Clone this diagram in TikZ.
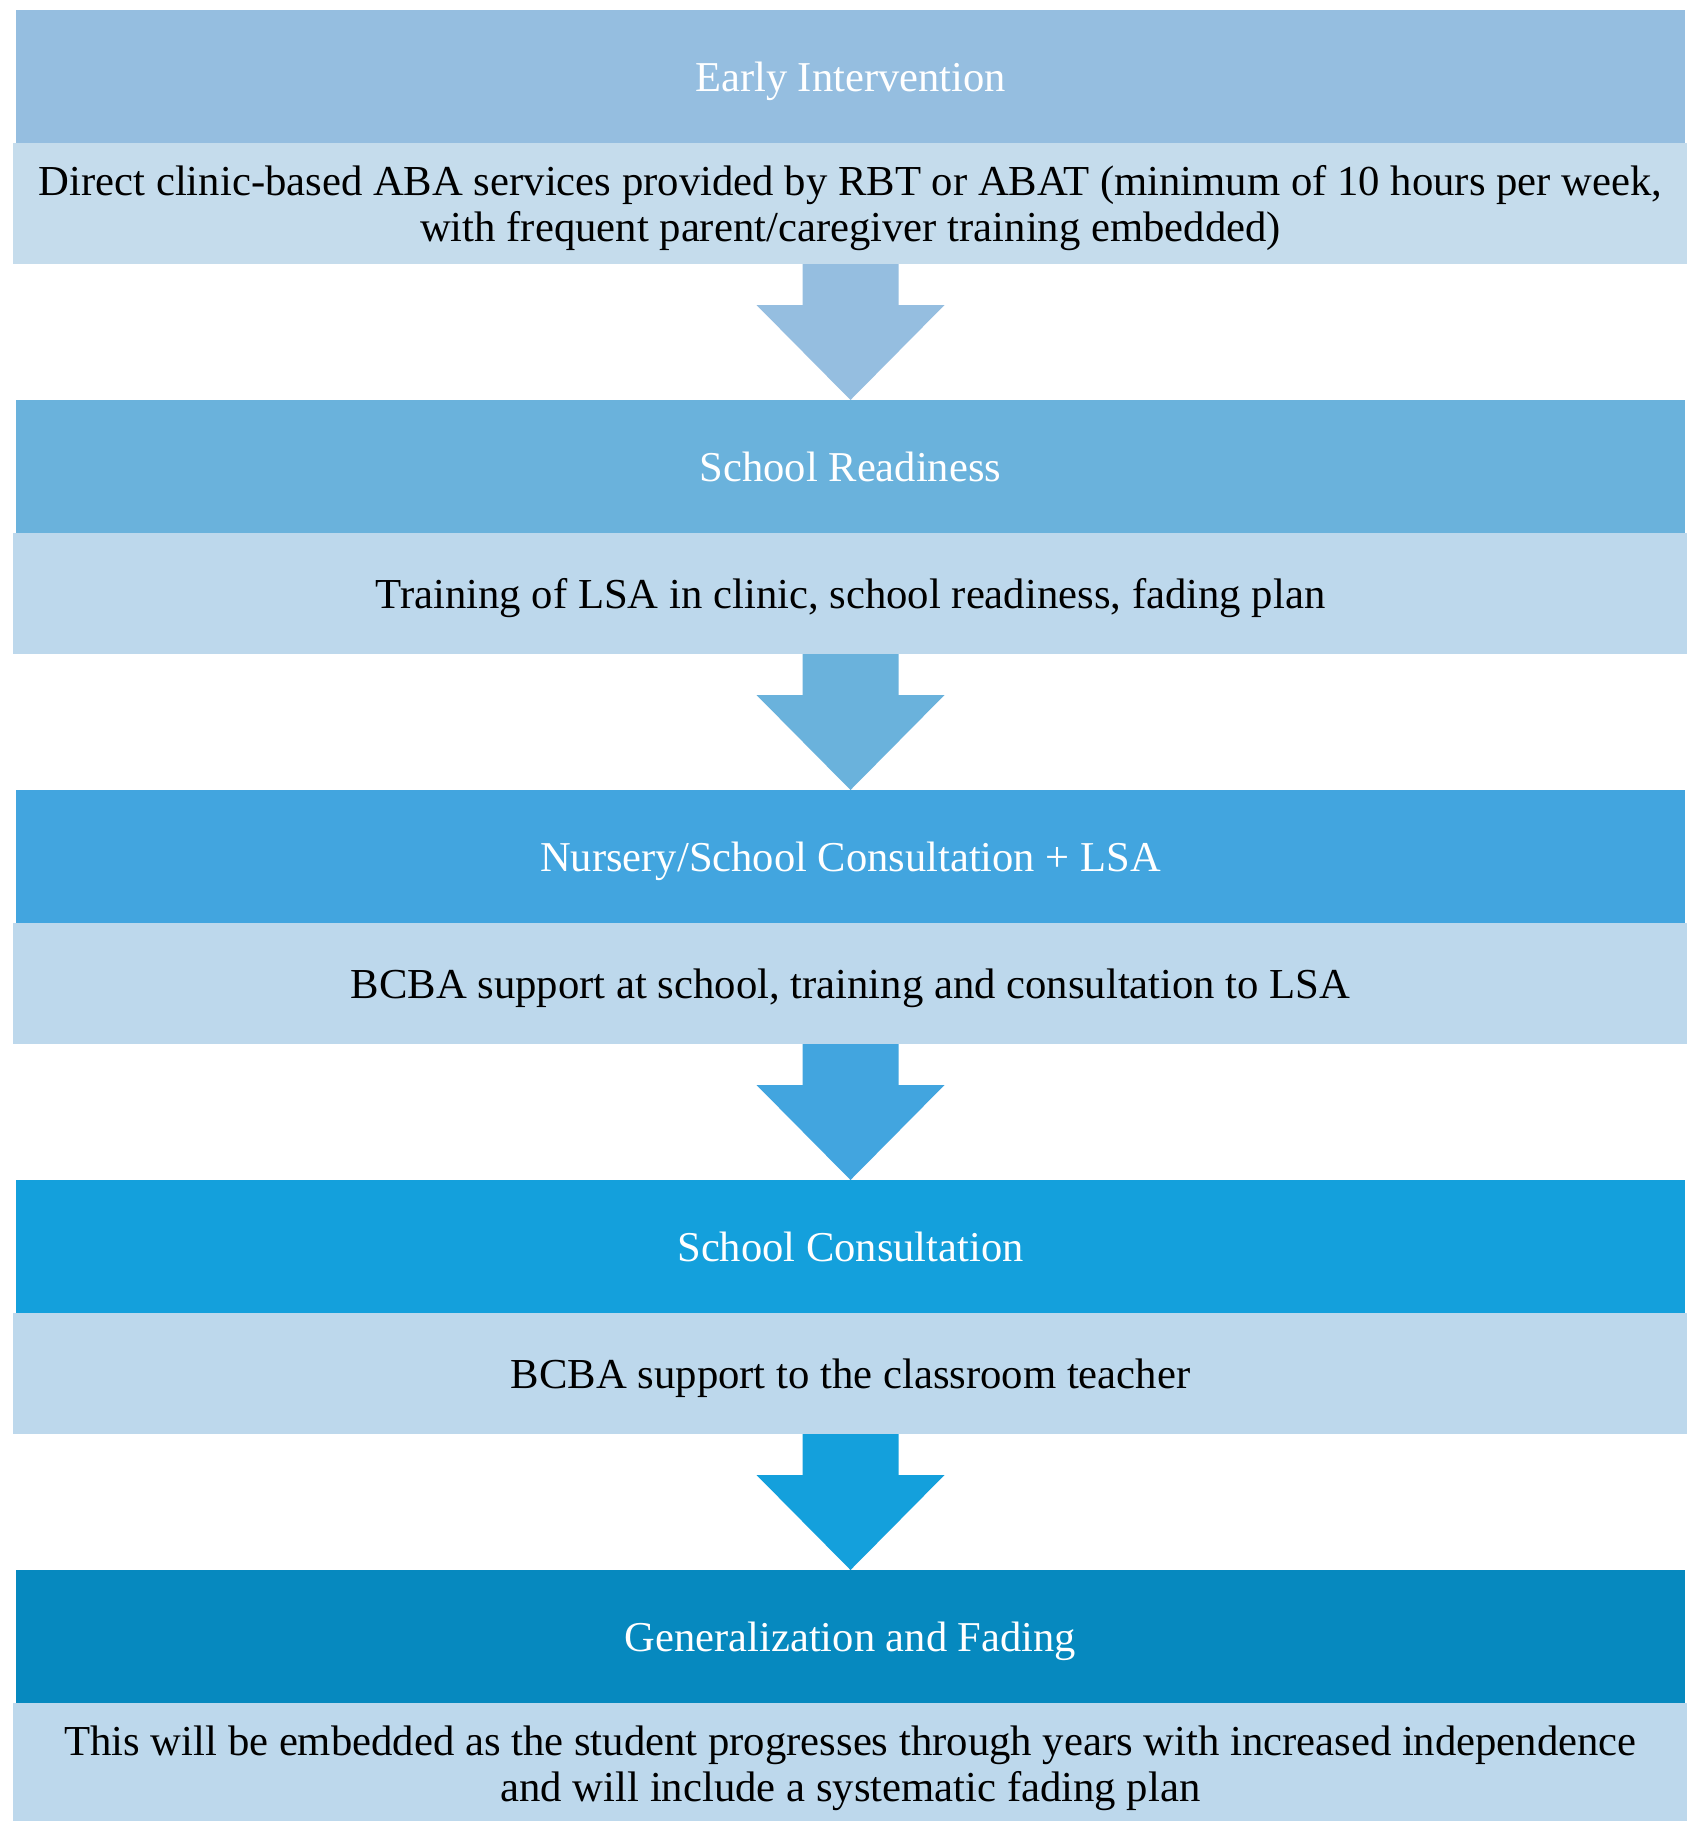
\documentclass[tikz,border=0pt]{standalone}
\usepackage{fontspec}
\setmainfont{Liberation Serif}
\usetikzlibrary{positioning,calc}

\definecolor{stageA}{HTML}{95BEE0}
\definecolor{stageB}{HTML}{6AB2DC}
\definecolor{stageC}{HTML}{42A5DF}
\definecolor{stageD}{HTML}{14A0DC}
\definecolor{stageE}{HTML}{0689BF}
\definecolor{bodyA}{HTML}{C5DCEC}
\definecolor{bodyB}{HTML}{BDD8EC}

\tikzset{
    header/.style={minimum width=16.69cm, minimum height=1.33cm, inner sep=0pt, outer sep=0pt,
        text depth=0pt, text=white, font=\fontsize{12.1}{14}\selectfont},
    detail/.style={minimum width=16.74cm, minimum height=1.21cm, inner sep=0pt, outer sep=0pt,
        text depth=0pt, align=center, font=\fontsize{12.15}{13.1}\selectfont},
}

\begin{document}
\begin{tikzpicture}
    \useasboundingbox[fill=white] (0,0) rectangle (16.87,-18.21);

    % Stage headers and their descriptions
    \node[header, fill=stageA, anchor=north] (hdrA) at (8.505,-0.10) {Early Intervention};
    \node[detail, fill=bodyA, below=0pt of hdrA] (detA)
        {Direct clinic-based ABA services provided by RBT or ABAT (minimum of 10 hours per week,\\
         with frequent parent/caregiver training embedded)};

    \node[header, fill=stageB, below=1.36cm of detA] (hdrB) {School Readiness};
    \node[detail, fill=bodyB, below=0pt of hdrB] (detB)
        {Training of LSA in clinic, school readiness, fading plan};

    \node[header, fill=stageC, below=1.36cm of detB] (hdrC) {Nursery/School Consultation + LSA};
    \node[detail, fill=bodyB, below=0pt of hdrC] (detC)
        {BCBA support at school, training and consultation to LSA};

    \node[header, fill=stageD, below=1.36cm of detC] (hdrD) {School Consultation};
    \node[detail, fill=bodyB, below=0pt of hdrD] (detD)
        {BCBA support to the classroom teacher};

    \node[header, fill=stageE, below=1.36cm of detD] (hdrE) {Generalization and Fading};
    \node[detail, fill=bodyB, below=0pt of hdrE] (detE)
        {This will be embedded as the student progresses through years with increased independence\\
         and will include a systematic fading plan};

    % Block arrows between the stages
    \foreach \a/\b/\c in {detA/hdrB/stageA, detB/hdrC/stageB, detC/hdrD/stageC, detD/hdrE/stageD} {
        \fill[\c] ($(\a.south)+(-0.48,0)$) -- ($(\a.south)+(0.48,0)$)
            -- ($(\a.south)+(0.48,-0.41)$) -- ($(\a.south)+(0.94,-0.41)$)
            -- (\b.north)
            -- ($(\a.south)+(-0.94,-0.41)$) -- ($(\a.south)+(-0.48,-0.41)$) -- cycle;
    }
\end{tikzpicture}
\end{document}
